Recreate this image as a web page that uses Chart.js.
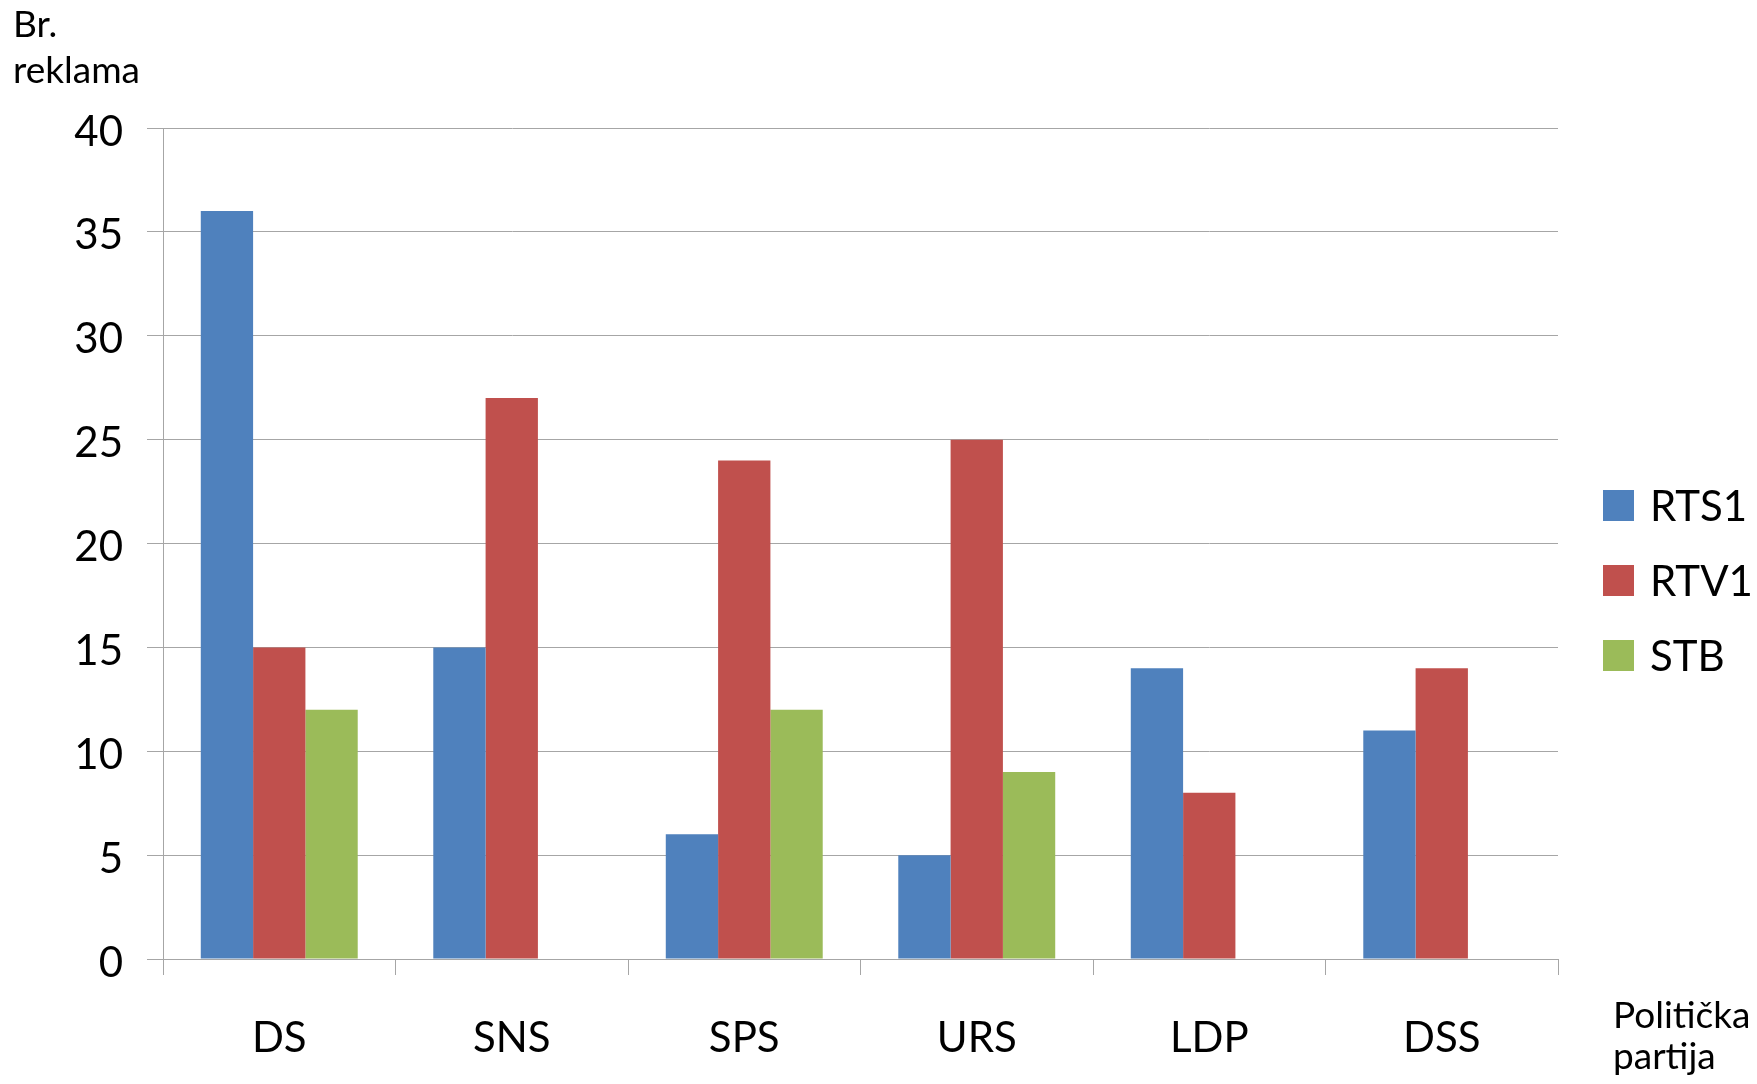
<!DOCTYPE html>
<html>
<head>
<meta charset="utf-8">
<script src="https://cdn.jsdelivr.net/npm/chart.js@4.4.0/dist/chart.umd.min.js"></script>
<style>
    html, body { margin: 0; padding: 0; background: #fff; }
    #wrap { width: 1757px; height: 1084px; }
</style>
</head>
<body>
<div id="wrap"><canvas id="barchart" width="1757" height="1084"></canvas></div>
<script>
// data
const parties = ['DS', 'SNS', 'SPS', 'URS', 'LDP', 'DSS'];
const rts1 = [36, 15, 6, 5, 14, 11];
const rtv1 = [15, 27, 24, 25, 8, 14];
const stb = [12, null, 12, 9, null, null];
const yTicks = [0, 5, 10, 15, 20, 25, 30, 35, 40];

const font = 'Lato, "Open Sans", sans-serif';
const gridColor = '#a6a6a6';

// axis titles + legend drawn on the canvas
const extras = {
    id: 'extras',
    afterDraw(chart) {
        const ctx = chart.ctx;
        ctx.save();
        ctx.fillStyle = '#000';
        ctx.textAlign = 'left';
        ctx.textBaseline = 'alphabetic';
        ctx.font = '37px ' + font;
        ctx.fillText('Br.', 13, 37);
        ctx.fillText('reklama', 13, 83);
        ctx.fillText('Politička', 1613, 1028);
        ctx.fillText('partija', 1613, 1069);

        ctx.font = '42px ' + font;
        ctx.textBaseline = 'middle';
        chart.data.datasets.forEach((ds, i) => {
            let y = 490 + i * 75;
            ctx.fillStyle = ds.backgroundColor;
            ctx.fillRect(1603, y, 31, 31);
            ctx.fillStyle = '#000';
            ctx.fillText(ds.label, 1650, y + 17);
        });
        ctx.restore();
    }
};

new Chart(document.getElementById('barchart').getContext('2d'), {
    type: 'bar',
    data: {
        labels: parties,
        datasets: [
            { label: 'RTS1', data: rts1, backgroundColor: '#4f81bd' },
            { label: 'RTV1', data: rtv1, backgroundColor: '#c0504d' },
            { label: 'STB', data: stb, backgroundColor: '#9bbb59' }
        ]
    },
    options: {
        responsive: false,
        animation: false,
        devicePixelRatio: 1,
        layout: { padding: { top: 128, right: 199, bottom: 0, left: 0 } },
        datasets: {
            bar: { categoryPercentage: 0.675, barPercentage: 1 }
        },
        plugins: {
            legend: { display: false },
            tooltip: { enabled: false }
        },
        scales: {
            x: {
                afterFit(scale) { scale.height = 125; },
                grid: {
                    offset: true,
                    drawOnChartArea: false,
                    drawTicks: true,
                    tickLength: 16,
                    color: gridColor
                },
                border: { display: true, color: gridColor },
                ticks: {
                    color: '#000',
                    padding: 38,
                    font: { family: font, size: 42 }
                }
            },
            y: {
                min: 0,
                max: 40,
                afterFit(scale) { scale.width = 163; },
                afterBuildTicks(scale) {
                    scale.ticks = yTicks.map(v => ({ value: v }));
                },
                grid: {
                    color: gridColor,
                    drawTicks: true,
                    tickLength: 16
                },
                border: { display: true, color: gridColor },
                ticks: {
                    color: '#000',
                    padding: 24,
                    labelOffset: 4,
                    font: { family: font, size: 42 }
                }
            }
        }
    },
    plugins: [extras]
});
</script>
</body>
</html>
